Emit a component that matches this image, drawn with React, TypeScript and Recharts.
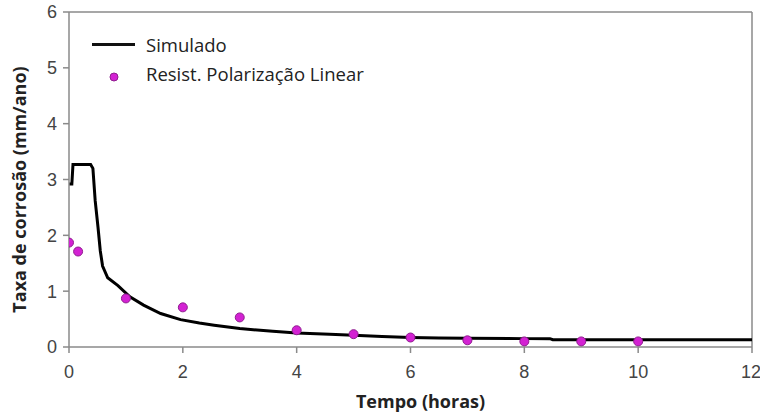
import {
  ComposedChart,
  Label,
  Line,
  ReferenceLine,
  Scatter,
  XAxis,
  YAxis
} from "recharts";

// simulated corrosion rate (mm/ano) vs time (horas)
const simTime = [
  0, 0.05, 0.07, 0.38, 0.42, 0.46, 0.51, 0.55, 0.59, 0.68, 0.86, 1.07, 1.31, 1.61, 1.96,
  2.29, 2.55, 3.0, 3.58, 4.0, 4.58, 5.0, 5.5, 6.0, 6.5, 7.0, 8.0, 8.45, 8.5, 12
];
const simRate = [
  2.92, 2.92, 3.27, 3.27, 3.2, 2.62, 2.14, 1.72, 1.45, 1.24, 1.1, 0.9, 0.75, 0.6, 0.49,
  0.43, 0.39, 0.33, 0.28, 0.25, 0.23, 0.21, 0.19, 0.17, 0.16, 0.155, 0.15, 0.15, 0.13, 0.13
];

// linear polarization resistance measurements
const lprTime = [0, 0.16, 1, 2, 3, 4, 5, 6, 7, 8, 9, 10];
const lprRate = [1.87, 1.71, 0.87, 0.71, 0.53, 0.3, 0.23, 0.17, 0.12, 0.1, 0.1, 0.1];

const xTicks = [0, 2, 4, 6, 8, 10, 12];
const yTicks = [0, 1, 2, 3, 4, 5, 6];

const seriesNames = ["Simulado", "Resist. Polarização Linear"];

const simData = simTime.map((t, i) => ({ t, rate: simRate[i] }));
const lprData = lprTime.map((t, i) => ({ t, rate: lprRate[i] }));

const axisColor = "#8a8a8a";
const dotFill = "#d322d3";
const dotStroke = "#8f1d8f";
const tickStyle = { fill: "#444", fontSize: 18, fontFamily: "Liberation Sans" };
const titleStyle = {
  fill: "#222",
  fontSize: 18,
  fontWeight: 700,
  fontFamily: "Open Sans",
  textAnchor: "middle" as const
};

const Dot = (props: any) => (
  <circle cx={props.cx} cy={props.cy} r={4.5} fill={dotFill} stroke={dotStroke} strokeWidth={1} />
);

// legend drawn as an overlay so it doesn't eat plot space
function LegendBox() {
  const text = { fontFamily: "Open Sans", fontSize: 18.5, color: "#222" };
  return (
    <div style={{ position: "absolute", left: 92, top: 30, lineHeight: "29px" }}>
      <div style={{ display: "flex", alignItems: "center" }}>
        <span style={{ width: 43, height: 3, background: "#111", marginRight: 11 }} />
        <span style={text}>{seriesNames[0]}</span>
      </div>
      <div style={{ display: "flex", alignItems: "center" }}>
        <span style={{ width: 43, display: "flex", justifyContent: "center", marginRight: 11, paddingTop: 6 }}>
          <svg width={10} height={10}>
            <circle cx={5} cy={5} r={4} fill={dotFill} stroke={dotStroke} strokeWidth={1} />
          </svg>
        </span>
        <span style={text}>{seriesNames[1]}</span>
      </div>
    </div>
  );
}

export default function App() {
  return (
    <div style={{ position: "absolute", left: 0, top: 0, width: 760, height: 414, background: "#fff" }}>
      <ComposedChart width={760} height={414} margin={{ top: 12, right: 8, left: 0, bottom: 0 }}>
        <XAxis
          type="number"
          dataKey="t"
          domain={[0, 12]}
          ticks={xTicks}
          allowDataOverflow
          stroke={axisColor}
          strokeWidth={1.5}
          tick={tickStyle}
          tickMargin={12}
          height={67}
        >
          <Label value="Tempo (horas)" position="insideBottom" offset={3} dy={-3} dx={10} style={titleStyle} />
        </XAxis>
        <YAxis
          type="number"
          dataKey="rate"
          domain={[0, 6]}
          ticks={yTicks}
          allowDataOverflow
          stroke={axisColor}
          strokeWidth={1.5}
          tick={tickStyle}
          tickMargin={6}
          width={69}
        >
          <Label value="Taxa de corrosão (mm/ano)" angle={-90} position="insideLeft" offset={20} dy={10} style={titleStyle} />
        </YAxis>
        <ReferenceLine y={6} stroke={axisColor} strokeWidth={1.5} />
        <ReferenceLine x={12} stroke={axisColor} strokeWidth={1.5} />
        <Line
          data={simData}
          dataKey="rate"
          name={seriesNames[0]}
          type="linear"
          stroke="#000"
          strokeWidth={3}
          dot={false}
          isAnimationActive={false}
        />
        <Scatter
          data={lprData}
          dataKey="rate"
          name={seriesNames[1]}
          shape={Dot}
          isAnimationActive={false}
        />
      </ComposedChart>
      <LegendBox />
    </div>
  );
}
